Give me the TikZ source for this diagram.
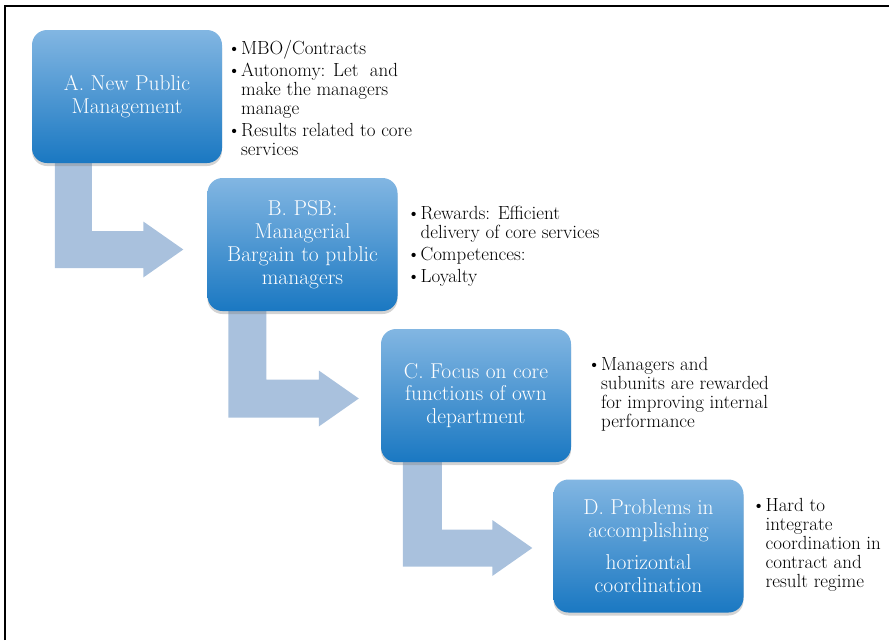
\documentclass[tikz,border=0pt]{standalone}
\usepackage{tikz}
\usetikzlibrary{calc}
\usetikzlibrary{shadows}
\usetikzlibrary{backgrounds}
\definecolor{boxtop}{HTML}{82B6E2}
\definecolor{boxbottom}{HTML}{1A78C2}
\definecolor{arrowblue}{HTML}{A9C1DD}
\tikzset{stage/.style={rounded corners=15pt, minimum width=190pt, minimum height=133pt,
    top color=boxtop, bottom color=boxbottom, text=white, align=center,
    font=\fontsize{21.5}{22.8}\selectfont,
    drop shadow={shadow xshift=0pt, shadow yshift=-3pt, opacity=0.35}}
}
\tikzset{notes/.style={anchor=west, align=left, inner sep=0pt,
    font=\fontsize{19}{19}\selectfont}
}
\tikzset{bentfill/.style={fill=arrowblue}}
\newcommand{\itm}{\textbullet}
\newcommand{\ind}{\hphantom{\textbullet}}

\begin{document}
\begin{tikzpicture}[x=1pt,y=-1pt]
                \useasboundingbox (0,0) rectangle (889,640);
                \draw[line width=2pt] (5,640) -- (5,5.5) -- (889,5.5);

                % Stages
                \node[stage] (a) at (127,96.5) {A. New Public\\Management};
                \node[stage] (b) at (302.5,244.5) {B. PSB:\\Managerial\\Bargain to public\\managers};
                \node[stage] (c) at (476,395.5) {C. Focus on core\\functions of own\\department};
                \node[stage] (d) at (648.5,546) {D. Problems in\\accomplishing\\[9pt]horizontal\\coordination};

                % Bent arrows
                \begin{scope}[on background layer]
                \path ($(a.south west)+(23,-6)$) coordinate (a-out) ($(b.west)+(-24,5)$) coordinate (b-in);
                \fill[bentfill] (a-out) -- ++(37,0) |- ($(b-in)+(-40,-18.5)$) -- ++(0,-9.5) -- (b-in) -- ($(b-in)+(-40,28)$) -- ++(0,-9.5) -| (a-out) -- cycle;
                \path ($(b.south west)+(21,-6)$) coordinate (b-out) ($(c.west)+(-22,3)$) coordinate (c-in);
                \fill[bentfill] (b-out) -- ++(38,0) |- ($(c-in)+(-40,-19)$) -- ++(0,-9) -- (c-in) -- ($(c-in)+(-40,28)$) -- ++(0,-9) -| (b-out) -- cycle;
                \path ($(c.south west)+(22,-6)$) coordinate (c-out) ($(d.west)+(-21,2)$) coordinate (d-in);
                \fill[bentfill] (c-out) -- ++(39,0) |- ($(d-in)+(-40,-18.5)$) -- ++(0,-9.5) -- (d-in) -- ($(d-in)+(-40,28)$) -- ++(0,-9.5) -| (c-out) -- cycle;
                \end{scope}

                % Notes
                \node[notes] (a-notes) at ($(a.east)+(5,1)$)
                    {\itm MBO/Contracts\\[3pt]
                     \itm Autonomy: Let\ \ and\\
                     \ind make the managers\\
                     \ind manage\\[3pt]
                     \itm Results related to core\\
                     \ind services};
                \node[notes] (b-notes) at ($(b.east)+(9,1.5)$)
                    {\itm Rewards: Efficient\\
                     \ind delivery of core services\\[3pt]
                     \itm Competences:\\[3pt]
                     \itm Loyalty};
                \node[notes] (c-notes) at ($(c.east)+(16,-1.5)$)
                    {\itm Managers and\\
                     \ind subunits are rewarded\\
                     \ind for improving internal\\
                     \ind performance};
                \node[notes] (d-notes) at ($(d.east)+(8,-1)$)
                    {\itm Hard to\\
                     \ind integrate\\
                     \ind coordination in\\
                     \ind contract and\\
                     \ind result regime};
\end{tikzpicture}
\end{document}
